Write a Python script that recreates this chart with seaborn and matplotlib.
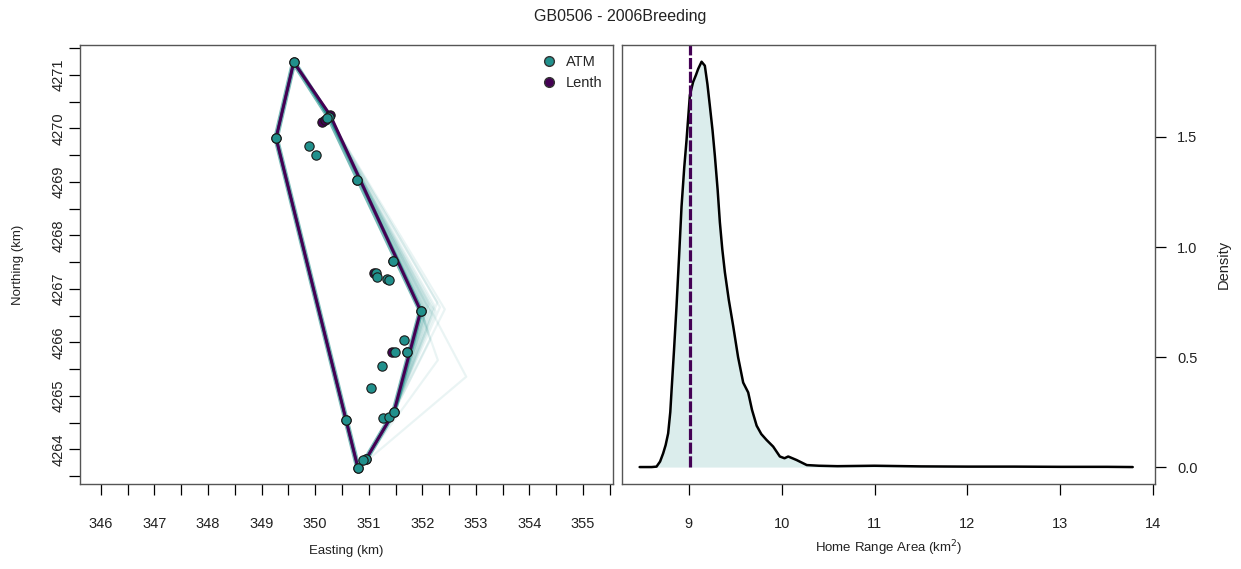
import matplotlib
matplotlib.use('Agg')
import matplotlib.pyplot as plt
from matplotlib.lines import Line2D
import seaborn as sns
import pandas as pd
import numpy as np

# ---- data ----
atm_x = [349.60, 349.27, 350.26, 350.23, 349.89, 350.01, 350.79, 351.45, 351.13,
         351.15, 351.35, 351.38, 351.97, 351.66, 351.49, 351.71, 351.25, 351.04,
         350.58, 351.26, 351.38, 351.47, 350.95, 350.89, 350.80]
atm_y = [4271.24, 4269.82, 4270.21, 4270.19, 4269.67, 4269.50, 4269.04, 4267.52, 4267.29,
         4267.23, 4267.18, 4267.17, 4266.59, 4266.05, 4265.82, 4265.82, 4265.56, 4265.14,
         4264.55, 4264.58, 4264.61, 4264.70, 4263.82, 4263.80, 4263.65]

lenth_x = [350.12, 350.18, 350.28, 351.10, 351.44, 349.60, 349.27, 350.79, 351.45,
           351.97, 351.71, 351.47, 350.95, 350.80, 350.58]
lenth_y = [4270.12, 4270.16, 4270.25, 4267.29, 4265.82, 4271.24, 4269.82, 4269.04, 4267.52,
           4266.59, 4265.82, 4264.70, 4263.82, 4263.65, 4264.55]

# perturbed right-hand vertices of the simulated (ATM) hulls
sim_x = [351.99, 352.00, 352.01, 352.02, 352.03, 352.04, 352.05, 352.06, 352.07,
         352.08, 352.09, 352.10, 352.12, 352.14, 352.16, 352.18, 352.20, 352.22,
         352.25, 352.28, 352.33, 352.42, 352.05, 352.10, 352.15, 352.29, 352.82]
sim_y = [4266.62, 4266.64, 4266.58, 4266.66, 4266.60, 4266.68, 4266.62, 4266.55, 4266.70,
         4266.64, 4266.58, 4266.66, 4266.72, 4266.60, 4266.66, 4266.52, 4266.62, 4266.70,
         4266.58, 4266.75, 4266.66, 4266.62, 4266.40, 4266.25, 4266.05, 4265.67, 4265.36]

# density of home range area
area = [8.47, 8.60, 8.652, 8.69, 8.723, 8.75, 8.777, 8.80, 8.814, 8.84, 8.867, 8.895,
        8.921, 8.95, 8.975, 9.011, 9.046, 9.075, 9.10, 9.137, 9.172, 9.20, 9.226,
        9.255, 9.28, 9.31, 9.334, 9.36, 9.388, 9.43, 9.477, 9.53, 9.585, 9.639, 9.68,
        9.73, 9.78, 9.837, 9.908, 9.98, 10.03, 10.07, 10.16, 10.27, 10.4, 10.6, 11.0,
        11.5, 12.0, 12.5, 13.0, 13.5, 13.78]
dens = [0.0, 0.0, 0.002, 0.025, 0.062, 0.100, 0.153, 0.250, 0.35, 0.53, 0.729, 0.96,
        1.183, 1.36, 1.486, 1.69, 1.75, 1.78, 1.809, 1.842, 1.824, 1.74, 1.642,
        1.53, 1.415, 1.26, 1.112, 0.99, 0.885, 0.76, 0.642, 0.50, 0.384, 0.339, 0.26,
        0.188, 0.15, 0.123, 0.093, 0.048, 0.040, 0.048, 0.032, 0.009, 0.006, 0.004, 0.006,
        0.003, 0.002, 0.002, 0.001, 0.001, 0.0]
lenth_area = 9.01

title = 'GB0506 - 2006Breeding'

TEAL = '#21908C'
PURPLE = '#440154'


def hull(xs, ys):
    pts = sorted(set(zip(xs, ys)))

    def cross(o, a, b):
        return (a[0] - o[0]) * (b[1] - o[1]) - (a[1] - o[1]) * (b[0] - o[0])

    lower, upper = [], []
    for p in pts:
        while len(lower) >= 2 and cross(lower[-2], lower[-1], p) <= 0:
            lower.pop()
        lower.append(p)
    for p in reversed(pts):
        while len(upper) >= 2 and cross(upper[-2], upper[-1], p) <= 0:
            upper.pop()
        upper.append(p)
    h = lower[:-1] + upper[:-1]
    h.append(h[0])
    return pd.DataFrame(h, columns=['x', 'y'])


sns.set_style('white')
plt.rcParams['font.family'] = ['Liberation Sans', 'DejaVu Sans']
plt.rcParams['axes.edgecolor'] = '#555555'
plt.rcParams['axes.linewidth'] = 1.0

W, H = 1241, 569
fig = plt.figure(figsize=(W / 100, H / 100), dpi=100)
ax1 = fig.add_axes([80 / W, (H - 484) / H, 533 / W, 439 / H])
ax2 = fig.add_axes([622 / W, (H - 484) / H, 533 / W, 439 / H])

# ---- left: locations and hulls ----
for sx, sy in zip(sim_x, sim_y):
    h = hull(atm_x + [sx], atm_y + [sy])
    ax1.plot(h['x'], h['y'], color=TEAL, lw=1.6, alpha=0.09, zorder=1)

h_atm = hull(atm_x, atm_y)
ax1.plot(h_atm['x'], h_atm['y'], color=TEAL, lw=4.0, alpha=0.6, zorder=2)
h_len = hull(lenth_x, lenth_y)
ax1.plot(h_len['x'], h_len['y'], color=PURPLE, lw=2.2, zorder=3)

sns.scatterplot(x=lenth_x, y=lenth_y, ax=ax1, color=PURPLE, s=45,
                edgecolor='#1a1a1a', linewidth=0.8, zorder=4)
sns.scatterplot(x=atm_x, y=atm_y, ax=ax1, color=TEAL, s=45,
                edgecolor='#1a1a1a', linewidth=0.8, zorder=5)

ax1.set_xlim(345.61, 355.56)
ax1.set_ylim(4263.355, 4271.56)
xt = np.arange(346, 356, 0.5)
ax1.set_xticks(xt)
ax1.set_xticklabels([f'{v:.0f}' if v == int(v) else '' for v in xt])
yt = np.arange(4263.5, 4272, 0.5)
ax1.set_yticks(yt)
ax1.set_yticklabels([f'{v:.0f}' if v == int(v) else '' for v in yt],
                    rotation=90, va='center')
ax1.tick_params(axis='x', bottom=True, length=8, width=0.9, color='black', pad=16,
                labelsize=10.5, labelcolor='#222222')
ax1.tick_params(axis='y', left=True, length=8, width=0.9, color='black', pad=2,
                labelsize=10.5, labelcolor='#222222')
ax1.set_xlabel('Easting (km)', fontsize=9.5, labelpad=10, color='#222222')
ax1.set_ylabel('Northing (km)', fontsize=9.5, labelpad=20, color='#222222')

handles = [Line2D([], [], marker='o', ls='', color=TEAL, markeredgecolor='#333333',
                  markersize=7, label='ATM'),
           Line2D([], [], marker='o', ls='', color=PURPLE, markeredgecolor='#333333',
                  markersize=7, label='Lenth')]
ax1.legend(handles=handles, loc='upper right', frameon=False, fontsize=10.5,
           handletextpad=0.2, labelspacing=0.45, borderaxespad=0.3,
           bbox_to_anchor=(1.0, 1.0))

# ---- right: density of home range area ----
ax2.fill_between(area, dens, color=TEAL, alpha=0.16, lw=0)
sns.lineplot(x=area, y=dens, ax=ax2, color='black', lw=1.8, sort=False,
             estimator=None)
ax2.vlines(lenth_area, 0, 1.93, color=PURPLE, lw=2.3, linestyles=(0, (3.5, 0.8)))

ax2.set_xlim(8.28, 14.02)
ax2.set_ylim(-0.077, 1.918)
ax2.set_xticks([9, 10, 11, 12, 13, 14])
ax2.set_yticks([0.0, 0.5, 1.0, 1.5])
ax2.set_yticklabels(['0.0', '0.5', '1.0', '1.5'])
ax2.yaxis.tick_right()
ax2.yaxis.set_label_position('right')
ax2.tick_params(axis='x', bottom=True, length=8, width=0.9, color='black', pad=16,
                labelsize=10.5, labelcolor='#222222')
ax2.tick_params(axis='y', right=True, left=False, length=8, width=0.9, color='black',
                pad=8, labelsize=10.5, labelcolor='#222222')
ax2.set_xlabel('Home Range Area (km$^2$)', fontsize=9.5, labelpad=5, color='#222222')
ax2.set_ylabel('Density', fontsize=10.5, labelpad=14, color='#222222')

fig.text(0.5, 1 - 17 / H, title, ha='center', va='center', fontsize=11.5,
         color='#222222')

fig.savefig('out.png', dpi=100)
